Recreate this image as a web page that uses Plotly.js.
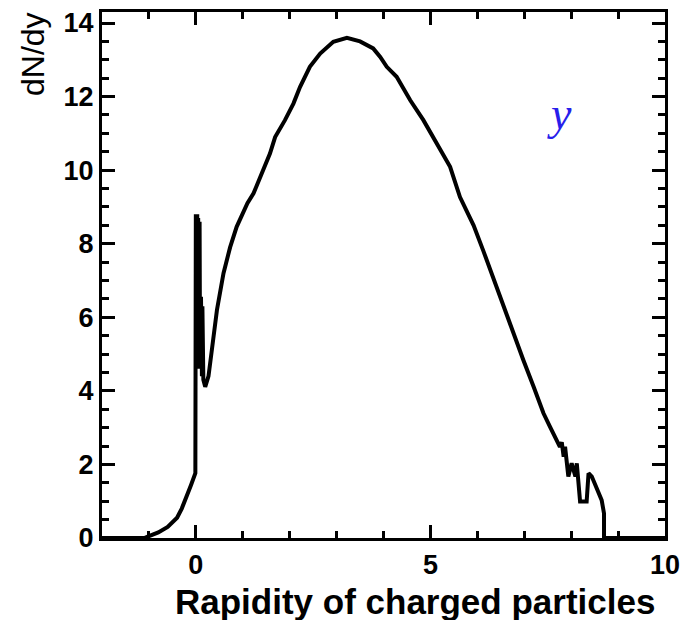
<!DOCTYPE html>
<html>
<head>
<meta charset="utf-8">
<script src="https://cdn.plot.ly/plotly-3.0.1.min.js"></script>
<style>html,body{margin:0;padding:0;background:#fff;}#chart{width:684px;height:620px;}</style>
</head>
<body>
<div id="chart"></div>
<script>
// Rapidity values (x) and dN/dy values
const rapidity = [-2.0, -1.1, -1.0, -0.8, -0.6, -0.4, -0.3, -0.2, -0.1, -0.01,
  0.0, 0.03, 0.03, 0.05, 0.06, 0.08, 0.09, 0.11, 0.13, 0.14, 0.16, 0.20, 0.27, 0.37, 0.45,
  0.59, 0.73, 0.87, 1.0, 1.1, 1.23, 1.40, 1.58, 1.69, 1.90, 2.08, 2.22, 2.43, 2.65,
  2.93, 3.22, 3.50, 3.78, 3.93, 4.07, 4.28, 4.57, 4.85, 5.14, 5.42, 5.63, 5.92, 6.13,
  6.34, 6.56, 6.77, 6.98, 7.20, 7.41, 7.55, 7.66, 7.76, 7.80, 7.84, 7.87, 7.94, 8.01,
  8.05, 8.09, 8.12, 8.19, 8.33, 8.37, 8.44, 8.55, 8.65, 8.70, 8.70, 10.0];
const dNdy = [0, 0, 0.05, 0.15, 0.3, 0.55, 0.8, 1.1, 1.45, 1.76,
  8.75, 8.75, 4.6, 8.7, 4.6, 8.6, 4.6, 6.56, 4.4, 6.3, 4.3, 4.11, 4.4, 5.4, 6.2,
  7.2, 7.9, 8.46, 8.8, 9.1, 9.37, 9.91, 10.45, 10.9, 11.36, 11.81, 12.26, 12.81, 13.17,
  13.49, 13.6, 13.5, 13.31, 13.08, 12.81, 12.54, 11.9, 11.36, 10.73, 10.09, 9.27, 8.5, 7.8,
  7.05, 6.29, 5.56, 4.84, 4.11, 3.39, 3.02, 2.75, 2.48, 2.6, 2.21, 2.48, 1.67, 2.03,
  1.8, 1.67, 2.03, 0.99, 0.99, 1.76, 1.67, 1.30, 1.03, 0.67, 0, 0];

const xTitle = "Rapidity of charged particles";
const yTitle = "dN/dy";
const label = "y";

const tickFont = {family: "Liberation Sans, Arial, sans-serif", size: 27, color: "#000", weight: "bold"};

const trace = {
  x: rapidity, y: dNdy, type: "scatter", mode: "lines",
  line: {color: "#000", width: 4, shape: "linear"},
  hoverinfo: "skip", showlegend: false
};

const layout = {
  width: 684, height: 620,
  margin: {l: 102, r: 19, t: 12, b: 82},
  paper_bgcolor: "#fff", plot_bgcolor: "#fff",
  showlegend: false,
  xaxis: {
    range: [-2, 10], tick0: 0, dtick: 5,
    ticks: "inside", ticklen: 13, tickwidth: 3, tickcolor: "#000",
    showline: true, linewidth: 3, linecolor: "#000", mirror: "ticks",
    showgrid: false, zeroline: false,
    tickfont: tickFont, ticklabelstandoff: 1,
    minor: {dtick: 1, ticks: "inside", ticklen: 7, tickwidth: 3, tickcolor: "#000", showgrid: false}
  },
  yaxis: {
    range: [0, 14.3], tick0: 0, dtick: 2,
    ticks: "inside", ticklen: 13, tickwidth: 3, tickcolor: "#000",
    showline: true, linewidth: 3, linecolor: "#000", mirror: "ticks",
    showgrid: false, zeroline: false,
    tickfont: tickFont,
    minor: {dtick: 0.5, ticks: "inside", ticklen: 7, tickwidth: 3, tickcolor: "#000", showgrid: false}
  },
  annotations: [
    {text: xTitle, xref: "paper", yref: "paper", x: 1.0, y: 0, xanchor: "right", yanchor: "top",
     xshift: -8, yshift: -42, showarrow: false,
     font: {family: "Liberation Sans, Arial, sans-serif", size: 35, color: "#000", weight: "bold"}},
    {text: yTitle, xref: "paper", yref: "paper", x: 0, y: 1, xanchor: "center", yanchor: "top",
     xshift: -69, yshift: 2, showarrow: false, textangle: -90,
     font: {family: "Liberation Sans, Arial, sans-serif", size: 32, color: "#000"}},
    {text: "<i>" + label + "</i>", xref: "paper", yref: "paper", x: 0.812, y: 0.80,
     xanchor: "center", yanchor: "middle", yshift: 4, showarrow: false,
     font: {family: "Liberation Serif, Times New Roman, serif", size: 46, color: "rgb(40,30,235)"}}
  ]
};

Plotly.newPlot("chart", [trace], layout, {staticPlot: true, displayModeBar: false});
</script>
</body>
</html>
